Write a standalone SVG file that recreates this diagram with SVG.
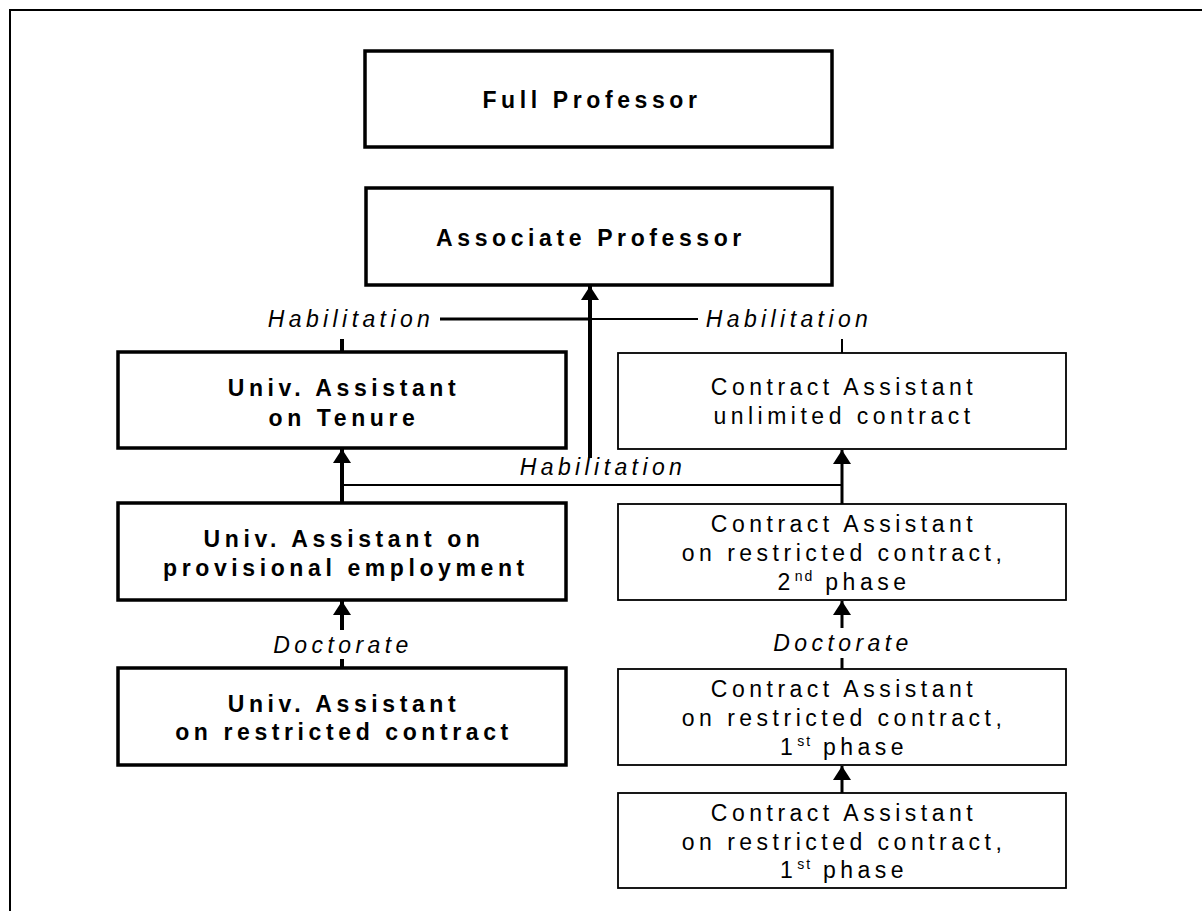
<svg xmlns="http://www.w3.org/2000/svg" width="1202" height="911" viewBox="0 0 1202 911">
<style>
.bg{fill:#fff}
.thick{fill:#fff;stroke:#000;stroke-width:3.5}
.thin{fill:#fff;stroke:#000;stroke-width:1.8}
.b{font-family:"Liberation Sans",Arial,sans-serif;font-size:23px;font-weight:bold;letter-spacing:4.6px;text-anchor:middle;fill:#000}
.n{font-family:"Liberation Sans",Arial,sans-serif;font-size:23px;letter-spacing:4.5px;text-anchor:middle;fill:#000}
.i{font-family:"Liberation Sans",Arial,sans-serif;font-size:23px;font-style:italic;letter-spacing:4.4px;text-anchor:middle;fill:#000}
.sup{font-size:14px;letter-spacing:2px}
.c{fill:none;stroke:#000}
.w4{stroke-width:4}
.w3{stroke-width:3}
.w2{stroke-width:2}
</style>
<defs>
<marker id="ah" markerUnits="userSpaceOnUse" markerWidth="14" markerHeight="18" viewBox="0 0 14 18" refX="14" refY="9" orient="auto">
<path d="M0,0 L14,9 L0,18 Z" fill="#000"/>
</marker>
</defs>
<rect class="bg" x="0" y="0" width="1202" height="911"/>
<path d="M10,911 L10,10 L1202,10" fill="none" stroke="#000" stroke-width="2"/>

<g id="connectors">
<line class="c w4" x1="590" y1="458" x2="590" y2="286" marker-end="url(#ah)"/>
<line class="c w3" x1="440" y1="319" x2="590" y2="319"/>
<line class="c w4" x1="342" y1="339" x2="342" y2="352"/>
<line class="c w2" x1="590" y1="319" x2="698" y2="319"/>
<line class="c w2" x1="842" y1="339" x2="842" y2="353"/>
<line class="c w4" x1="342" y1="503" x2="342" y2="449" marker-end="url(#ah)"/>
<line class="c w3" x1="842" y1="504" x2="842" y2="450" marker-end="url(#ah)"/>
<line class="c w2" x1="342" y1="485" x2="842" y2="485"/>
<line class="c w4" x1="342" y1="630" x2="342" y2="601" marker-end="url(#ah)"/>
<line class="c w4" x1="342" y1="659" x2="342" y2="668"/>
<line class="c w3" x1="842" y1="628" x2="842" y2="601" marker-end="url(#ah)"/>
<line class="c w3" x1="842" y1="658" x2="842" y2="669"/>
<line class="c w3" x1="842" y1="793" x2="842" y2="766" marker-end="url(#ah)"/>
<text class="i" x="351" y="327">Habilitation</text>
<text class="i" x="789" y="327">Habilitation</text>
<text class="i" x="603" y="475">Habilitation</text>
<text class="i" x="343" y="653">Doctorate</text>
<text class="i" x="843" y="651">Doctorate</text>
</g>

<g id="full-professor">
<rect class="thick" x="365" y="51" width="467" height="96"/>
<text class="b" x="592" y="108">Full Professor</text>
</g>
<g id="associate-professor">
<rect class="thick" x="366" y="188" width="466" height="97"/>
<text class="b" x="591" y="246">Associate Professor</text>
</g>
<g id="ua-tenure">
<rect class="thick" x="118" y="352" width="448" height="96"/>
<text class="b" x="344" y="396">Univ. Assistant</text>
<text class="b" x="344" y="426">on Tenure</text>
</g>
<g id="ca-unlimited">
<rect class="thin" x="618" y="353" width="448" height="96"/>
<text class="n" x="844" y="395">Contract Assistant</text>
<text class="n" x="844" y="424">unlimited contract</text>
</g>
<g id="ua-provisional">
<rect class="thick" x="118" y="503" width="448" height="97"/>
<text class="b" x="344" y="547">Univ. Assistant on</text>
<text class="b" x="346" y="576">provisional employment</text>
</g>
<g id="ua-restricted">
<rect class="thick" x="118" y="668" width="448" height="97"/>
<text class="b" x="344" y="712">Univ. Assistant</text>
<text class="b" x="344" y="740">on restricted contract</text>
</g>
<g id="ca-2nd">
<rect class="thin" x="618" y="504" width="448" height="96"/>
<text class="n" x="844" y="532">Contract Assistant</text>
<text class="n" x="844" y="561">on restricted contract,</text>
<text class="n" x="844" y="590">2<tspan class="sup" dy="-9">nd</tspan><tspan dy="9"> phase</tspan></text>
</g>
<g id="ca-1st-a">
<rect class="thin" x="618" y="669" width="448" height="96"/>
<text class="n" x="844" y="697">Contract Assistant</text>
<text class="n" x="844" y="726">on restricted contract,</text>
<text class="n" x="844" y="755">1<tspan class="sup" dy="-9">st</tspan><tspan dy="9"> phase</tspan></text>
</g>
<g id="ca-1st-b">
<rect class="thin" x="618" y="793" width="448" height="95"/>
<text class="n" x="844" y="821">Contract Assistant</text>
<text class="n" x="844" y="850">on restricted contract,</text>
<text class="n" x="844" y="878">1<tspan class="sup" dy="-9">st</tspan><tspan dy="9"> phase</tspan></text>
</g>
</svg>
